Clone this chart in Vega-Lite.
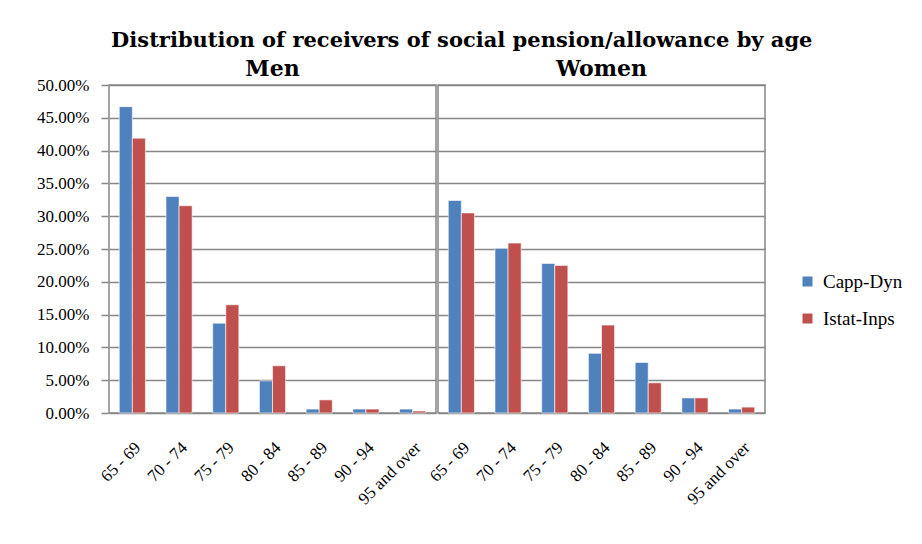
{
  "$schema": "https://vega.github.io/schema/vega-lite/v6.json",
  "padding": {"left": 36, "top": 30, "right": 10, "bottom": 5},
  "background": "white",
  "title": {"text": "Distribution of receivers of social pension/allowance by age", "font": "DejaVu Serif", "fontSize": 21, "fontWeight": "bold", "color": "#000000", "anchor": "middle", "offset": 7, "dx": -8},
  "data": {"values": [
    {"sex": "Men", "age": "65 - 69", "series": "Capp-Dyn", "value": 0.467},
    {"sex": "Men", "age": "65 - 69", "series": "Istat-Inps", "value": 0.419},
    {"sex": "Men", "age": "70 - 74", "series": "Capp-Dyn", "value": 0.330},
    {"sex": "Men", "age": "70 - 74", "series": "Istat-Inps", "value": 0.316},
    {"sex": "Men", "age": "75 - 79", "series": "Capp-Dyn", "value": 0.137},
    {"sex": "Men", "age": "75 - 79", "series": "Istat-Inps", "value": 0.165},
    {"sex": "Men", "age": "80 - 84", "series": "Capp-Dyn", "value": 0.049},
    {"sex": "Men", "age": "80 - 84", "series": "Istat-Inps", "value": 0.072},
    {"sex": "Men", "age": "85 - 89", "series": "Capp-Dyn", "value": 0.006},
    {"sex": "Men", "age": "85 - 89", "series": "Istat-Inps", "value": 0.020},
    {"sex": "Men", "age": "90 - 94", "series": "Capp-Dyn", "value": 0.006},
    {"sex": "Men", "age": "90 - 94", "series": "Istat-Inps", "value": 0.006},
    {"sex": "Men", "age": "95 and over", "series": "Capp-Dyn", "value": 0.006},
    {"sex": "Men", "age": "95 and over", "series": "Istat-Inps", "value": 0.003},
    {"sex": "Women", "age": "65 - 69", "series": "Capp-Dyn", "value": 0.324},
    {"sex": "Women", "age": "65 - 69", "series": "Istat-Inps", "value": 0.305},
    {"sex": "Women", "age": "70 - 74", "series": "Capp-Dyn", "value": 0.251},
    {"sex": "Women", "age": "70 - 74", "series": "Istat-Inps", "value": 0.259},
    {"sex": "Women", "age": "75 - 79", "series": "Capp-Dyn", "value": 0.228},
    {"sex": "Women", "age": "75 - 79", "series": "Istat-Inps", "value": 0.225},
    {"sex": "Women", "age": "80 - 84", "series": "Capp-Dyn", "value": 0.091},
    {"sex": "Women", "age": "80 - 84", "series": "Istat-Inps", "value": 0.134},
    {"sex": "Women", "age": "85 - 89", "series": "Capp-Dyn", "value": 0.077},
    {"sex": "Women", "age": "85 - 89", "series": "Istat-Inps", "value": 0.046},
    {"sex": "Women", "age": "90 - 94", "series": "Capp-Dyn", "value": 0.023},
    {"sex": "Women", "age": "90 - 94", "series": "Istat-Inps", "value": 0.023},
    {"sex": "Women", "age": "95 and over", "series": "Capp-Dyn", "value": 0.006},
    {"sex": "Women", "age": "95 and over", "series": "Istat-Inps", "value": 0.009}
  ]},
  "facet": {"column": {"field": "sex", "type": "nominal", "sort": ["Men", "Women"],
    "header": {"title": null, "labelFont": "DejaVu Serif", "labelFontSize": 22, "labelFontWeight": "bold", "labelColor": "#000000", "labelPadding": 3}}},
  "spacing": 0,
  "spec": {
    "width": 327,
    "height": 328,
    "mark": {"type": "bar", "stroke": "#ffffff", "strokeWidth": 0.6},
    "encoding": {
      "x": {"field": "age", "type": "nominal",
        "sort": ["65 - 69", "70 - 74", "75 - 79", "80 - 84", "85 - 89", "90 - 94", "95 and over"],
        "scale": {"paddingInner": 0.44, "paddingOuter": 0.22},
        "axis": {"title": null, "labelAngle": -45, "ticks": false, "domain": false, "labelFont": "Liberation Serif", "labelFontSize": 17, "labelColor": "#000000", "labelPadding": 24}},
      "xOffset": {"field": "series", "type": "nominal", "sort": ["Capp-Dyn", "Istat-Inps"]},
      "y": {"field": "value", "type": "quantitative",
        "scale": {"domain": [0, 0.5], "nice": false},
        "axis": {"title": null, "format": ".2%", "values": [0, 0.05, 0.1, 0.15, 0.2, 0.25, 0.3, 0.35, 0.4, 0.45, 0.5], "labelFont": "Liberation Serif", "labelFontSize": 17, "labelColor": "#000000", "tickSize": 7, "tickColor": "#868686", "tickWidth": 1.5, "domain": false, "labelPadding": 12}},
      "color": {"field": "series", "type": "nominal", "sort": ["Capp-Dyn", "Istat-Inps"],
        "scale": {"range": ["#4F81BD", "#C0504D"]},
        "legend": {"title": null, "orient": "none", "legendX": 689, "legendY": 187, "symbolType": "square", "symbolSize": 100, "symbolStrokeWidth": 0, "labelFont": "Liberation Serif", "labelFontSize": 19, "labelColor": "#000000", "rowPadding": 17, "labelOffset": 6}}
    }
  },
  "config": {
    "view": {"stroke": "#868686", "strokeWidth": 1.5},
    "axis": {"gridColor": "#868686", "gridWidth": 1.5, "gridOpacity": 1}
  }
}
